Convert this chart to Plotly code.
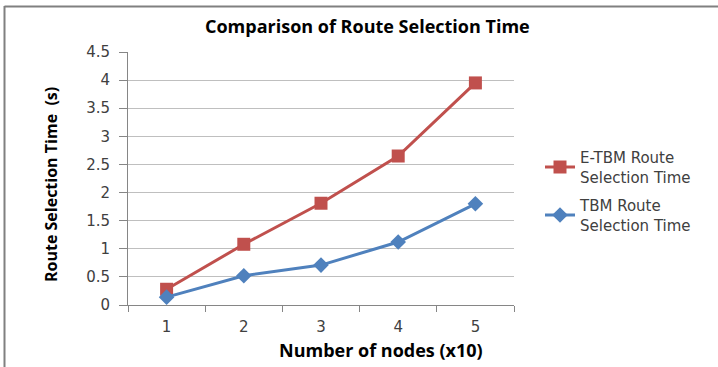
import plotly.graph_objects as go

categories = ["1", "2", "3", "4", "5"]
etbm_values = [0.28, 1.08, 1.81, 2.65, 3.95]
tbm_values = [0.14, 0.52, 0.71, 1.12, 1.80]
y_ticks = [0, 0.5, 1, 1.5, 2, 2.5, 3, 3.5, 4, 4.5]
y_tick_labels = ["0", "0.5", "1", "1.5", "2", "2.5", "3", "3.5", "4", "4.5"]

FONT = "Open Sans"
TICKFONT = "DejaVu Sans"
W, H = 718, 367
L, R, T, B = 128, 204, 52, 62
pw, ph = W - L - R, H - T - B

def px_x(x):
    return (x - L) / pw

def px_y(y):
    return 1 - (y - T) / ph

fig = go.Figure()
fig.add_trace(go.Scatter(
    x=categories, y=etbm_values, mode="lines+markers",
    name="E-TBM Route<br>Selection Time", legendgroup="etbm",
    line=dict(color="#C0504D", width=3),
    marker=dict(symbol="square", size=13, color="#C0504D"),
))
fig.add_trace(go.Scatter(
    x=categories, y=tbm_values, mode="lines+markers",
    name="TBM Route<br>Selection Time", legendgroup="tbm",
    line=dict(color="#4F81BD", width=3),
    marker=dict(symbol="diamond", size=12, color="#4F81BD"),
))

fig.update_layout(
    width=W, height=H,
    margin=dict(l=L, r=R, t=T, b=B, autoexpand=False),
    paper_bgcolor="white", plot_bgcolor="white",
    font=dict(family=TICKFONT, size=14, color="#404040"),
    showlegend=True,
    legend=dict(
        x=px_x(540), y=px_y(141), xanchor="left", yanchor="top",
        font=dict(family=TICKFONT, size=15, color="#404040"),
        traceorder="grouped", tracegroupgap=6, itemwidth=30,
        bgcolor="rgba(0,0,0,0)",
    ),
    xaxis=dict(
        type="category", range=[-0.5, 4.5],
        showgrid=False, showline=True, linecolor="#868686", linewidth=1,
        ticks="outside", tickson="boundaries", ticklen=6, tickcolor="#868686",
        ticklabelstandoff=8,
        tickfont=dict(family=TICKFONT, size=15, color="#404040"),
        zeroline=False,
    ),
    yaxis=dict(
        range=[0, 4.5], tickvals=y_ticks, ticktext=y_tick_labels,
        showgrid=True, gridcolor="#BFBFBF", gridwidth=1,
        showline=True, linecolor="#868686", linewidth=1,
        ticks="outside", ticklen=8, tickcolor="#868686",
        ticklabelstandoff=6,
        tickfont=dict(family=TICKFONT, size=15, color="#404040"),
        zeroline=False,
    ),
    annotations=[
        dict(text="<b>Comparison of Route Selection Time</b>", x=px_x(367), y=px_y(26),
             xref="paper", yref="paper", showarrow=False, xanchor="center", yanchor="middle",
             font=dict(family=FONT, size=18, color="#000000")),
        dict(text="<b>Number of nodes (x10)</b>", x=px_x(381), y=px_y(350),
             xref="paper", yref="paper", showarrow=False, xanchor="center", yanchor="middle",
             font=dict(family=FONT, size=18, color="#000000")),
        dict(text="<b>Route Selection Time  (s)</b>", x=px_x(51), y=px_y(185),
             xref="paper", yref="paper", showarrow=False, textangle=-90,
             xanchor="center", yanchor="middle",
             font=dict(family=FONT, size=16, color="#000000")),
    ],
    shapes=[
        dict(type="line", xref="paper", yref="paper", x0=px_x(4.5), x1=px_x(718),
             y0=px_y(6.5), y1=px_y(6.5), line=dict(color="#808080", width=2)),
        dict(type="line", xref="paper", yref="paper", x0=px_x(4.5), x1=px_x(4.5),
             y0=px_y(6), y1=px_y(367), line=dict(color="#808080", width=2)),
    ],
)

fig.write_html("out.html", config={"displayModeBar": False},
               post_script="document.body.style.margin='0';document.body.style.overflow='hidden';")
